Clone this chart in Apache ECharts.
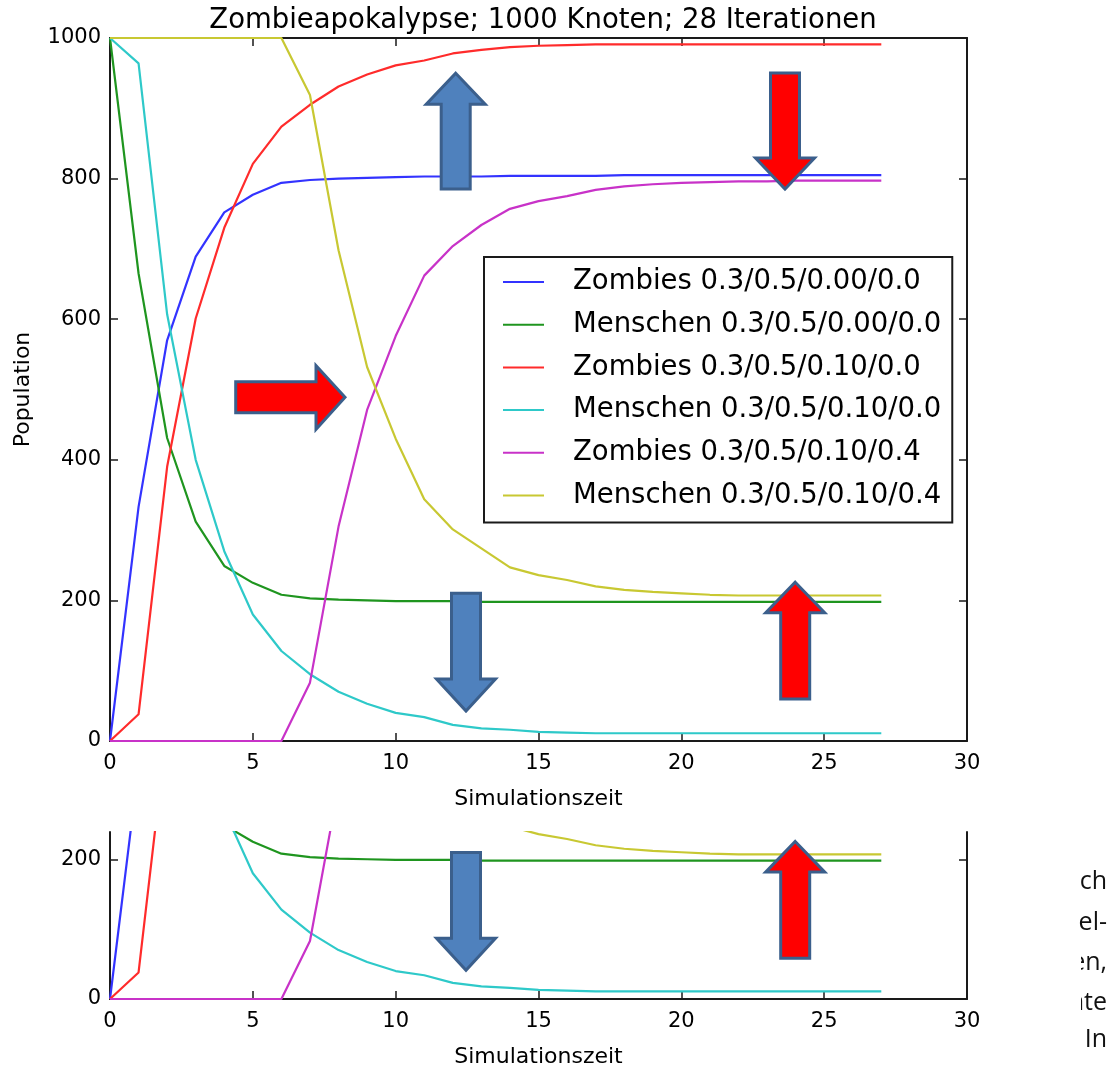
<!DOCTYPE html>
<html>
<head>
<meta charset="utf-8">
<script src="https://cdn.jsdelivr.net/npm/echarts@6/dist/echarts.min.js"></script>
<style>
html,body{margin:0;padding:0;background:#fff;}
#chart{width:1115px;height:1069px;}
</style>
</head>
<body>
<div id="chart"></div>
<script>
// ---------- data ----------
const iterations = [0,1,2,3,4,5,6,7,8,9,10,11,12,13,14,15,16,17,18,19,20,21,22,23,24,25,26,27];
const zombiesA   = [0,333,570,689,752,777,794,798,800,801,802,803,803,803,804,804,804,804,805,805,805,805,805,805,805,805,805,805];
const menschenA  = [1000,665,431,312,249,225,208,203,201,200,199,199,199,198,198,198,198,198,198,198,198,198,198,198,198,198,198,198];
const zombiesB   = [0,38,390,601,730,821,874,905,931,948,961,968,978,983,987,989,990,991,991,991,991,991,991,991,991,991,991,991];
const menschenB  = [1000,964,607,400,270,180,128,95,70,53,40,34,23,18,16,13,12,11,11,11,11,11,11,11,11,11,11,11];
const zombiesC   = [0,0,0,0,0,0,0,83,305,471,576,662,704,734,757,768,775,784,789,792,794,795,796,796,797,797,797,797];
const menschenC  = [1000,1000,1000,1000,1000,1000,1000,919,698,532,430,344,301,274,247,236,229,220,215,212,210,208,207,207,207,207,207,207];

const seriesNames = [
  'Zombies 0.3/0.5/0.00/0.0',
  'Menschen 0.3/0.5/0.00/0.0',
  'Zombies 0.3/0.5/0.10/0.0',
  'Menschen 0.3/0.5/0.10/0.0',
  'Zombies 0.3/0.5/0.10/0.4',
  'Menschen 0.3/0.5/0.10/0.4'
];
const seriesValues = [zombiesA, menschenA, zombiesB, menschenB, zombiesC, menschenC];
const seriesColors = ['#3333ff', '#1f951f', '#ff2b2b', '#2ec9c9', '#c832c8', '#c8c832'];

const yTicksZoom = [0,200];

const titleText = 'Zombieapokalypse; 1000 Knoten; 28 Iterationen';
const xName = 'Simulationszeit';
const yName = 'Population';
const sideText = ['ch', 'el-', 'en,', 'ate', 'In'];

// ---------- styles ----------
const FONT = 'DejaVu Sans';
const AX = '#1a1a1a';
const axisLineStyle = {show: true, onZero: false, lineStyle: {color: AX, width: 2}};
const tickInside = {show: true, inside: true, length: 8, lineStyle: {color: AX, width: 1.5}};
const labelStyle = {color: '#000', fontSize: 21, fontFamily: FONT, formatter: v => String(v)};

function xAxisBase(gridIndex, position, showLabels, withName) {
  const a = {
    type: 'value', gridIndex: gridIndex, position: position,
    min: 0, max: 30, interval: 5,
    axisLine: axisLineStyle,
    axisTick: tickInside,
    splitLine: {show: false},
    axisLabel: showLabels ? Object.assign({margin: 12}, labelStyle) : {show: false}
  };
  if (withName) {
    a.name = xName; a.nameLocation = 'middle'; a.nameGap = 47;
    a.nameTextStyle = {fontSize: 22, fontFamily: FONT, color: '#000'};
  }
  return a;
}

const option = {
  animation: false,
  backgroundColor: '#fff',
  title: {
    text: titleText, left: 538, top: 2, textAlign: 'center',
    textStyle: {fontSize: 27.5, fontWeight: 'normal', fontFamily: FONT, color: '#000'}
  },
  legend: {
    orient: 'vertical', left: 484, top: 257,
    padding: [10, 11, 12, 19], itemGap: 12.7,
    itemWidth: 41, itemHeight: 2, icon: 'rect',
    borderColor: AX, borderWidth: 2, backgroundColor: '#fff',
    selectedMode: false,
    textStyle: {fontSize: 27.5, fontFamily: FONT, color: '#000', lineHeight: 30, padding: [0, 0, 0, 24]},
    data: seriesNames,
    z: 20
  },
  grid: [
    {left: 110, top: 38, width: 857, height: 703},
    {left: 110, top: 832, width: 857, height: 168}
  ],
  xAxis: [
    xAxisBase(0, 'bottom', true, true),
    xAxisBase(0, 'top', false, false),
    xAxisBase(1, 'bottom', true, true)
  ],
  yAxis: [
    {
      type: 'value', gridIndex: 0, position: 'left', min: 0, max: 1000, interval: 200,
      axisLine: axisLineStyle, axisTick: tickInside, splitLine: {show: false},
      axisLabel: Object.assign({margin: 9}, labelStyle),
      name: yName, nameLocation: 'middle', nameGap: 76, nameRotate: 90,
      nameTextStyle: {fontSize: 22, fontFamily: FONT, color: '#000'}
    },
    {
      type: 'value', gridIndex: 0, position: 'right', min: 0, max: 1000, interval: 200,
      axisLine: axisLineStyle, axisTick: tickInside, splitLine: {show: false},
      axisLabel: {show: false}
    },
    {
      type: 'value', gridIndex: 1, position: 'left', min: 0, max: 239, interval: 200,
      axisLine: axisLineStyle,
      axisTick: Object.assign({customValues: yTicksZoom}, tickInside),
      splitLine: {show: false},
      axisLabel: Object.assign({}, labelStyle, {margin: 9, customValues: yTicksZoom,
        formatter: v => (yTicksZoom.indexOf(v) >= 0 ? String(v) : '')})
    },
    {
      type: 'value', gridIndex: 1, position: 'right', min: 0, max: 239, interval: 200,
      axisLine: axisLineStyle,
      axisTick: Object.assign({customValues: yTicksZoom}, tickInside),
      splitLine: {show: false},
      axisLabel: {show: false}
    }
  ],
  series: []
};

[0, 1].forEach(function (g) {
  seriesValues.forEach(function (vals, i) {
    option.series.push({
      type: 'line',
      name: seriesNames[i],
      xAxisIndex: g === 0 ? 0 : 2,
      yAxisIndex: g === 0 ? 0 : 2,
      data: iterations.map((t, k) => [t, vals[k]]),
      showSymbol: false, symbol: 'none',
      clip: true,
      lineStyle: {color: seriesColors[i], width: 2.2},
      itemStyle: {color: seriesColors[i]},
      z: 2
    });
  });
});

// ---------- annotation arrows (drawn over the plots) ----------
const BLUE = '#4f81bd', RED = '#ff0000', EDGE = '#3b5f8c';
function arrow(points, fill) {
  return {type: 'polygon', z: 50, shape: {points: points},
    style: {fill: fill, stroke: EDGE, lineWidth: 3, lineJoin: 'miter'}};
}
function upArrow(cx, tipY, headY, bottomY, fill) {
  return arrow([[cx, tipY], [cx + 29.5, headY], [cx + 14.5, headY], [cx + 14.5, bottomY],
                [cx - 14.5, bottomY], [cx - 14.5, headY], [cx - 29.5, headY]], fill);
}
function downArrow(cx, topY, headY, tipY, fill) {
  return arrow([[cx - 14.5, topY], [cx + 14.5, topY], [cx + 14.5, headY], [cx + 29.5, headY],
                [cx, tipY], [cx - 29.5, headY], [cx - 14.5, headY]], fill);
}
const OFF = 259.3;
const graphics = [
  upArrow(455.7, 73.3, 104.3, 189, BLUE),
  downArrow(785, 73, 158, 189, RED),
  arrow([[235.7, 381.7], [316, 381.7], [316, 365.7], [345, 397.3], [316, 429.3], [316, 412.7], [235.7, 412.7]], RED),
  downArrow(466, 593.3, 679, 711, BLUE),
  upArrow(795.2, 582.2, 612.8, 699, RED),
  downArrow(466, 593.3 + OFF, 679 + OFF, 711 + OFF, BLUE),
  upArrow(795.2, 582.2 + OFF, 612.8 + OFF, 699 + OFF, RED)
];
// cut-off text of the surrounding document on the right
const sideY = [882, 923, 963, 1003, 1040];
sideText.forEach(function (t, i) {
  graphics.push({type: 'text', z: 60, x: 1107, y: sideY[i],
    style: {text: t, font: '25px "Open Sans"', fill: '#111', align: 'right', verticalAlign: 'middle'}});
});
graphics.push({type: 'rect', z: 61, shape: {x: 1050, y: 945, width: 31, height: 72}, style: {fill: '#fff'}});
option.graphic = graphics;

const chart = echarts.init(document.getElementById('chart'), null, {renderer: 'canvas'});
chart.setOption(option);
</script>
</body>
</html>
